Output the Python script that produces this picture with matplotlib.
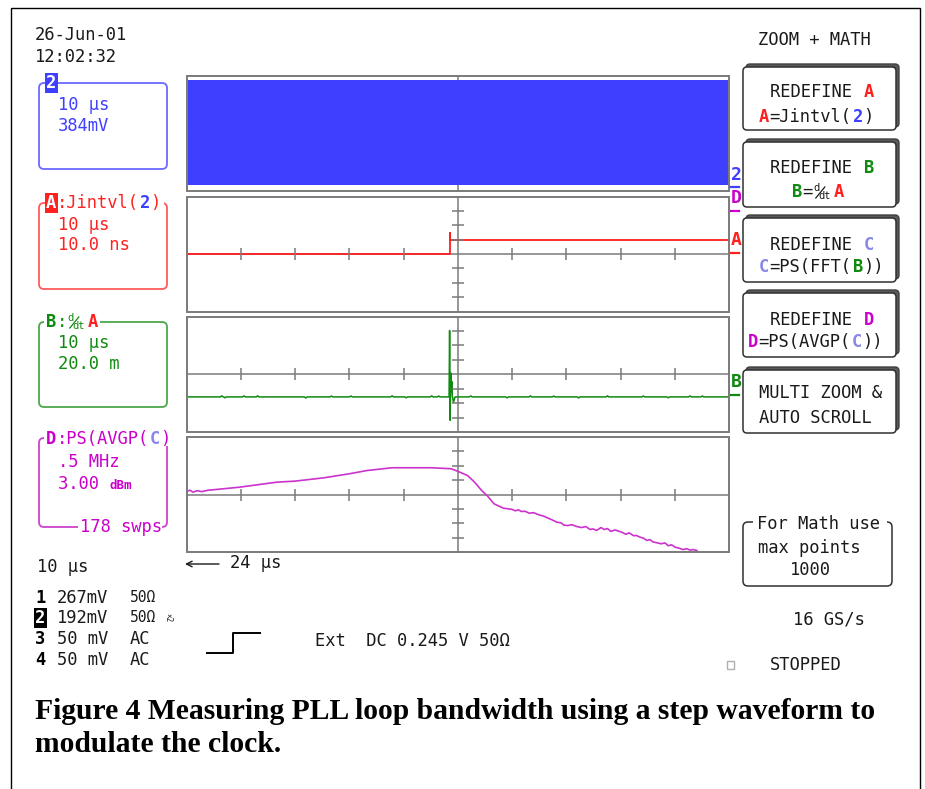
import matplotlib.pyplot as plt
from matplotlib.patches import FancyBboxPatch, Rectangle

W, H = 925, 789

# ---------------- data ----------------
# channel 2: fast clock, only its envelope is visible (384 mV/div)
ch2_t_us = [-50, 50]
ch2_top_mv = [1430, 1430]
ch2_bot_mv = [-1375, -1375]

# A = Jintvl(2)  (10 ns/div)
jit_t_us = [-50, -1.4, -1.4, -1.4, 50]
jit_ns = [0, 0, 14.5, 10, 10]

# B = dA/dt  (20 m/div)
dadt_base = -31.4
dadt_spike_t_us = [-1.6, -1.5, -1.4, -1.3, -1.2, -1.1, -1.0, -0.8, -0.5]
dadt_spike_val = [-31.4, 60.6, -63.8, 2, -25, -10, -30, -39, -31.4]
dadt_glitch_t_us = [-43.5, -42.9, -39.4, -36.9, -28.0, -23.3, -19.7, -12.1, -9.5,
                    -4.8, -3.5, 2.4, 9.1, 13.4, 17.7, 22.3, 27.6, 34.2, 38.8, 42.8, 45.1]
dadt_glitch_dy = [1.5, -1.2, 1.4, 1.5, -1.5, 1.2, 1.4, 1.5, -1.2,
                  1.5, 1.3, 1.4, -1.3, 1.5, 1.2, -1.4, 1.5, 1.3, -1.2, 1.4, 1.3]

# D = PS(AVGP(C))  (0.5 MHz/div, 3 dBm/div)
psd_freq_mhz = [0.0, 0.03, 0.06, 0.1, 0.14, 0.2, 0.275, 0.49, 0.835, 1.0,
                1.265, 1.5, 1.665, 1.895, 2.26, 2.44, 2.505, 2.59, 2.655, 2.72,
                2.77, 2.835, 2.92, 3.0, 3.03, 3.06, 3.085, 3.12, 3.16, 3.2,
                3.25, 3.29, 3.33, 3.37, 3.415, 3.45, 3.48, 3.515, 3.55, 3.6,
                3.64, 3.68, 3.72, 3.745, 3.78, 3.82, 3.85, 3.88, 3.91, 3.95,
                4.01, 4.05, 4.08, 4.12, 4.145, 4.18, 4.21, 4.245, 4.27, 4.3,
                4.34, 4.375, 4.41, 4.44, 4.47, 4.505, 4.54, 4.575, 4.61, 4.64,
                4.67, 4.705]
psd_level_dbm = [0.6, 0.9, 0.5, 0.8, 0.6, 0.9, 1.05, 1.53, 2.58, 2.79,
                 3.48, 4.32, 5.01, 5.58, 5.58, 5.37, 4.8, 3.96, 2.58, 0.84,
                 -0.21, -1.95, -2.85, -3.1, -3.4, -3.2, -3.54, -3.5, -3.9, -3.8,
                 -4.26, -4.5, -4.9, -5.3, -5.79, -5.9, -6.4, -6.48, -6.3, -6.7,
                 -6.9, -6.7, -7.3, -7.17, -7.5, -6.9, -7.3, -7.1, -7.7, -7.4,
                 -7.86, -8.3, -8.0, -8.6, -8.55, -8.9, -9.1, -9.6, -9.4, -9.9,
                 -10.1, -10.29, -10.1, -10.7, -10.5, -11.01, -11.2, -11.49, -11.3, -11.6,
                 -11.5, -11.7]

# colours
BLUE = '#3f3fff'
RED = '#ff2020'
GREEN = '#108a10'
MAG = '#cc00cc'
LAV = '#8888e8'
GRID = '#7a7a7a'
INK = '#1a1a1a'
MONO = 'DejaVu Sans Mono'
FS = 12.3
CW = 10.4  # px per character

fig = plt.figure(figsize=(W / 100, H / 100), dpi=100)
bg = fig.add_axes([0, 0, 1, 1])
bg.set_xlim(0, W)
bg.set_ylim(H, 0)
bg.axis('off')

# outer frame
bg.add_patch(Rectangle((10.5, 7.5), 909.5, 800, fill=False, ec='black', lw=1.0, clip_on=False))


def panel(top, bottom):
    left, right = 186.5, 729
    return fig.add_axes([left / W, 1 - bottom / H, (right - left) / W, (bottom - top) / H])


def graticule(ax, xlim, ylim):
    ax.set_xlim(*xlim)
    ax.set_ylim(*ylim)
    x0, x1 = xlim
    y0, y1 = ylim
    dx = (x1 - x0) / 10
    dy = (y1 - y0) / 8
    ax.spines['top'].set_visible(False)
    ax.spines['right'].set_visible(False)
    ax.spines['left'].set_position(('data', (x0 + x1) / 2))
    ax.spines['bottom'].set_position(('data', (y0 + y1) / 2))
    for s in ['left', 'bottom']:
        ax.spines[s].set_color(GRID)
        ax.spines[s].set_linewidth(1.1)
    ax.set_xticks([x0 + i * dx for i in range(1, 10) if i != 5])
    ax.set_yticks([y0 + i * dy for i in range(1, 8) if i != 4])
    ax.tick_params(direction='inout', length=8, width=1.1, color=GRID,
                   labelbottom=False, labelleft=False)
    ax.xaxis.set_zorder(4)
    ax.yaxis.set_zorder(4)
    ax.add_patch(Rectangle((0, 0), 1, 1, transform=ax.transAxes, fill=False,
                           ec=GRID, lw=1.4, zorder=6, clip_on=False))


# panel 1 : channel 2
ax1 = panel(76, 191)
graticule(ax1, (-50, 50), (-1536, 1536))
ax1.fill_between(ch2_t_us, ch2_bot_mv, ch2_top_mv, color=BLUE, lw=0, zorder=5)

# panel 2 : A
ax2 = panel(196.5, 311.5)
graticule(ax2, (-50, 50), (-40, 40))
ax2.plot(jit_t_us, jit_ns, color=RED, lw=1.3, zorder=3)

# panel 3 : B
ax3 = panel(316.5, 432)
graticule(ax3, (-50, 50), (-80, 80))
pts = [(-50, dadt_base)]
for t, dy in zip(dadt_glitch_t_us, dadt_glitch_dy):
    pts += [(t - 0.25, dadt_base), (t, dadt_base + dy), (t + 0.25, dadt_base)]
pts += list(zip(dadt_spike_t_us, dadt_spike_val)) + [(50, dadt_base)]
pts.sort(key=lambda p: p[0])
ax3.plot([p[0] for p in pts], [p[1] for p in pts], color=GREEN, lw=1.1, zorder=3)

# panel 4 : D
ax4 = panel(437, 552)
graticule(ax4, (0, 5), (-12, 12))
ax4.plot(psd_freq_mhz, psd_level_dbm, color='#cc33cc', lw=1.2, zorder=3)


# ---------------- screen text ----------------
def segs(x, y, parts, size=FS):
    n = 0
    for p in parts:
        txt, col, st = p
        if txt == 'FRAC':
            bg.text(x + n * CW + 1, y - 4, 'd', color=col, fontsize=7.5, family=MONO,
                    ha='left', va='center', zorder=8)
            bg.text(x + n * CW + 6, y + 4, 'dt', color=col, fontsize=7.5, family=MONO,
                    ha='left', va='center', zorder=8)
            bg.plot([x + n * CW + 3, x + n * CW + 12], [y + 6, y - 5], color=col, lw=0.9, zorder=8)
            n += 2
            continue
        kw = dict(color=col, fontsize=size, family=MONO, ha='left', va='center', zorder=8)
        if st == 'b':
            kw['fontweight'] = 'bold'
        if st == 'inv':
            kw.update(color='white', fontweight='bold',
                      bbox=dict(boxstyle='square,pad=0.08', fc=col, ec='none'))
        bg.text(x + n * CW, y, txt, **kw)
        n += len(txt)


def rbox(x0, y0, x1, y1, ec, lw=1.3, r=5, fc='none', z=2):
    bg.add_patch(FancyBboxPatch((x0, y0), x1 - x0, y1 - y0,
                                boxstyle=f'round,pad=0,rounding_size={r}',
                                ec=ec, fc=fc, lw=lw, zorder=z))


segs(35, 35, [('26-Jun-01', INK, '')])
segs(35, 57, [('12:02:32', INK, '')])

# channel 2 box
rbox(39, 83, 167, 169, '#6a6aff')
segs(46, 83, [('2', BLUE, 'inv')])
segs(58, 105, [('10 µs', BLUE, '')])
segs(58, 126, [('384mV', BLUE, '')])

# A box
rbox(39, 203, 167, 289, '#ff5a5a')
bg.add_patch(Rectangle((56, 196), 108, 14, fc='white', ec='none', zorder=7))
segs(46, 203, [('A', RED, 'inv'), (':Jintvl(', RED, ''), ('2', BLUE, 'b'), (')', RED, '')])
segs(58, 225, [('10 µs', RED, '')])
segs(58, 245, [('10.0 ns', RED, '')])

# B box
rbox(39, 322, 167, 407, '#4ca64c')
bg.add_patch(Rectangle((44, 314), 56, 15, fc='white', ec='none', zorder=7))
segs(46, 322, [('B', GREEN, 'b'), (':', GREEN, ''), ('FRAC', GREEN, ''), ('A', RED, 'b')])
segs(58, 343, [('10 µs', GREEN, '')])
segs(58, 364, [('20.0 m', GREEN, '')])

# D box
rbox(39, 438, 167, 527, '#cc44cc')
bg.add_patch(Rectangle((44, 431), 130, 15, fc='white', ec='none', zorder=7))
bg.add_patch(Rectangle((78, 520), 84, 15, fc='white', ec='none', zorder=7))
segs(46, 439, [('D', MAG, 'b'), (':PS(AVGP(', MAG, ''), ('C', LAV, 'b'), (')', MAG, '')])
segs(58, 462, [('.5 MHz', MAG, '')])
segs(58, 484, [('3.00 ', MAG, '')])
bg.text(58 + 5 * CW, 485, 'dBm', color=MAG, fontsize=9, family=MONO, fontweight='bold',
        ha='left', va='center', zorder=8)
segs(80, 527, [('178 swps', MAG, '')])

# right-hand trace markers
for lab, col, yc, yl in [('2', BLUE, 175, 187), ('D', MAG, 198, 211),
                         ('A', RED, 240, 253), ('B', GREEN, 382, 395)]:
    bg.text(731, yc, lab, color=col, fontsize=13, family=MONO, fontweight='bold',
            ha='left', va='center', zorder=8)
    bg.plot([729.5, 739], [yl, yl], color=col, lw=1.6, zorder=8)

# bottom-left status
segs(37, 567, [('10 µs', INK, '')])
ch_rows = [('1', '267mV', '50Ω', 598), ('2', '192mV', '50Ω', 618),
           ('3', '50 mV', 'AC', 639), ('4', '50 mV', 'AC', 660)]
for num, volts, cpl, yy in ch_rows:
    segs(35, yy, [(num, 'black', 'inv' if num == '2' else 'b')])
    segs(57, yy, [(volts, INK, '')])
    if cpl == '50Ω':
        bg.text(130, yy, cpl, color=INK, fontsize=10.5, family=MONO, ha='left', va='center')
    else:
        segs(130, yy, [(cpl, INK, '')])
bg.text(168, 618, '×2', color=INK, fontsize=5.5, family=MONO, rotation=-90,
        ha='center', va='center')

bg.annotate('', xy=(185, 564), xytext=(219, 564),
            arrowprops=dict(arrowstyle='->', color=INK, lw=1.0, shrinkA=0, shrinkB=0))
segs(230, 563, [('24 µs', INK, '')])

bg.plot([207, 233, 233, 260], [653, 653, 633, 633], color='black', lw=1.4)
segs(315, 641, [('Ext  DC 0.245 V 50Ω', INK, '')])

# right-hand menu
segs(758, 40, [('ZOOM + MATH', INK, '')])
buttons = [
    (67, 130, [(770, 92, [('REDEFINE ', INK, ''), ('A', RED, 'b')]),
               (759, 117, [('A', RED, 'b'), ('=Jintvl(', INK, ''), ('2', BLUE, 'b'), (')', INK, '')])]),
    (142, 207, [(770, 168, [('REDEFINE ', INK, ''), ('B', GREEN, 'b')]),
                (792, 192, [('B', GREEN, 'b'), ('=', INK, ''), ('FRAC', INK, ''), ('A', RED, 'b')])]),
    (218, 282, [(770, 245, [('REDEFINE ', INK, ''), ('C', LAV, 'b')]),
                (759, 267, [('C', LAV, 'b'), ('=PS(FFT(', INK, ''), ('B', GREEN, 'b'), ('))', INK, '')])]),
    (293, 357, [(770, 320, [('REDEFINE ', INK, ''), ('D', MAG, 'b')]),
                (748, 342, [('D', MAG, 'b'), ('=PS(AVGP(', INK, ''), ('C', LAV, 'b'), ('))', INK, '')])]),
    (370, 433, [(759, 393, [('MULTI ZOOM &', INK, '')]),
                (759, 418, [('AUTO SCROLL', INK, '')])]),
]
for top, bot, lines in buttons:
    rbox(746, top - 3, 899, bot - 3, '#404040', lw=1.0, r=4, fc='#5a5a5a', z=2)
    rbox(743, top, 896, bot, '#303030', lw=1.1, r=4, fc='white', z=3)
    for lx, ly, parts in lines:
        segs(lx, ly, parts)

rbox(743, 522, 892, 586, '#303030', lw=1.1, r=5)
bg.add_patch(Rectangle((753, 515), 134, 15, fc='white', ec='none', zorder=7))
segs(757, 524, [('For Math use', INK, '')])
segs(758, 548, [('max points', INK, '')])
segs(790, 570, [('1000', INK, '')])
segs(793, 620, [('16 GS/s', INK, '')])
bg.add_patch(Rectangle((727, 661), 7, 8, fill=False, ec='#b0b0b0', lw=1.0))
segs(770, 665, [('STOPPED', INK, '')])

# caption
bg.text(35, 719, 'Figure 4 Measuring PLL loop bandwidth using a step waveform to',
        family='Liberation Serif', fontweight='bold', fontsize=21.3, color='black',
        ha='left', va='baseline')
bg.text(35, 752, 'modulate the clock.', family='Liberation Serif', fontweight='bold',
        fontsize=21.3, color='black', ha='left', va='baseline')

fig.savefig('out.png', dpi=100, facecolor='white')
